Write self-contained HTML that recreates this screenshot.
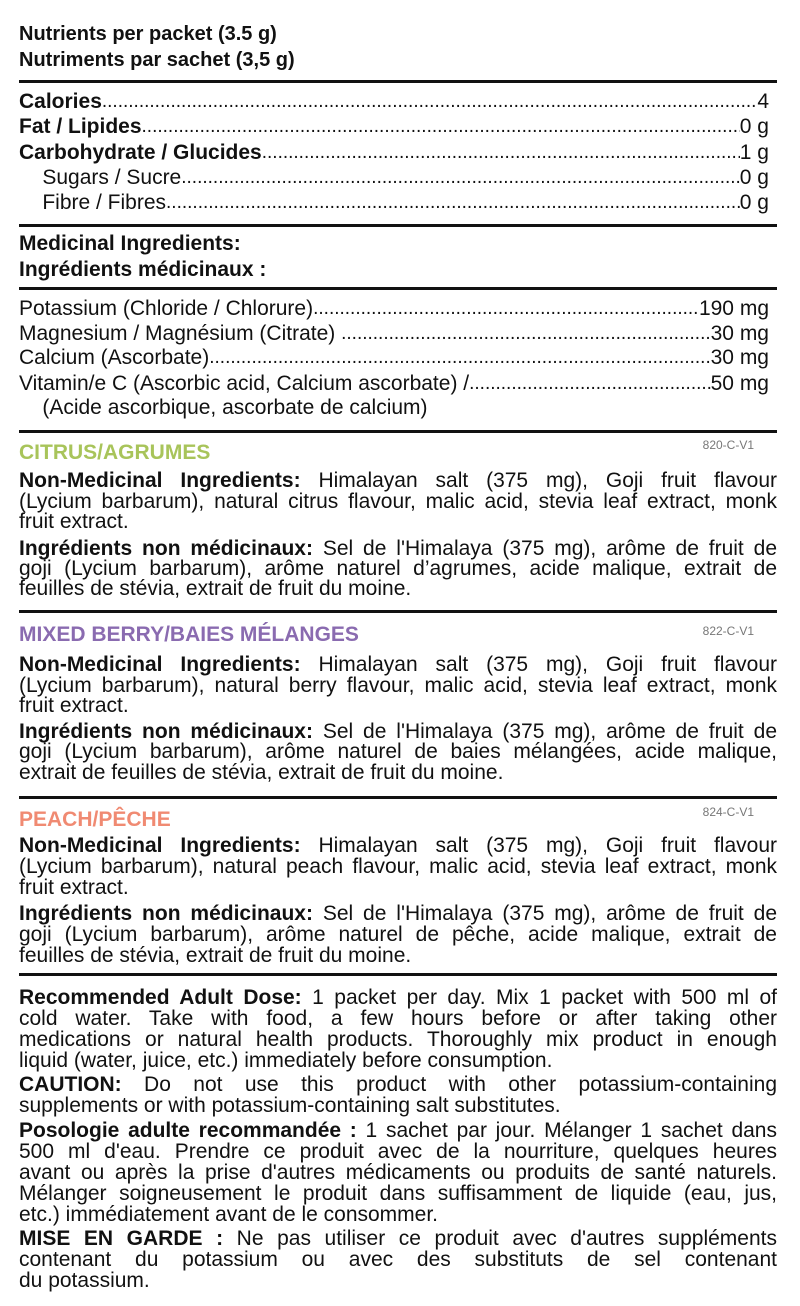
<!DOCTYPE html>
<html><head><meta charset="utf-8"><style>
body{margin:0;background:#fff;}
#p{position:relative;width:800px;height:1306px;overflow:hidden;font-family:"Liberation Sans",sans-serif;color:#111;font-size:21px;}
.l{position:absolute;left:19px;width:758px;height:22px;line-height:22px;white-space:nowrap;}
.j{text-align:justify;text-align-last:justify;}
.r{position:absolute;left:19px;width:750px;height:24px;line-height:24px;display:flex;white-space:nowrap;font-size:21px;}
.r .d{flex:1;overflow:hidden;font-size:19px;letter-spacing:0;}
.r .d::before{content:"................................................................................................................................................................................................................................................................";}
.hr{position:absolute;left:19px;width:758px;height:3px;background:#111;}
b{font-weight:bold;}
.h{position:absolute;left:19px;font-weight:bold;font-size:20px;line-height:24px;}
.code{position:absolute;right:46px;font-size:12px;color:#777;}
</style></head><body><div id="p">
<div class="h" style="top:22px">Nutrients per packet (3.5 g)</div>
<div class="h" style="top:48px">Nutriments par sachet (3,5 g)</div>
<div class="hr" style="top:80px"></div>
<div class="r" style="top:90px"><b>Calories</b><span class="d"></span><span>4</span></div>
<div class="r" style="top:115px"><b>Fat / Lipides</b><span class="d"></span><span>0 g</span></div>
<div class="r" style="top:141px"><b>Carbohydrate / Glucides</b><span class="d"></span><span>1 g</span></div>
<div class="r" style="top:166px"><span>&nbsp;&nbsp;&nbsp;&nbsp;Sugars / Sucre</span><span class="d"></span><span>0 g</span></div>
<div class="r" style="top:191px"><span>&nbsp;&nbsp;&nbsp;&nbsp;Fibre / Fibres</span><span class="d"></span><span>0 g</span></div>
<div class="hr" style="top:224px"></div>
<div class="h" style="top:232px;font-size:21px">Medicinal Ingredients:</div>
<div class="h" style="top:258px;font-size:21px">Ingrédients médicinaux :</div>
<div class="hr" style="top:287px"></div>
<div class="r" style="top:297px"><span>Potassium (Chloride / Chlorure)</span><span class="d"></span><span>190 mg</span></div>
<div class="r" style="top:322px"><span>Magnesium / Magnésium (Citrate)&nbsp;</span><span class="d"></span><span>30 mg</span></div>
<div class="r" style="top:346px"><span>Calcium (Ascorbate)</span><span class="d"></span><span>30 mg</span></div>
<div class="r" style="top:372px"><span>Vitamin/e C (Ascorbic acid, Calcium ascorbate) /</span><span class="d"></span><span>50 mg</span></div>
<div class="l" style="top:397px">&nbsp;&nbsp;&nbsp;&nbsp;(Acide ascorbique, ascorbate de calcium)</div>
<div class="hr" style="top:430px"></div>

<div class="h" style="top:441px;color:#a8c45a;font-size:21px">CITRUS/AGRUMES</div>
<div class="code" style="top:438px">820-C-V1</div>
<div class="l j" style="top:470px"><b>Non-Medicinal Ingredients:</b> Himalayan salt (375 mg), Goji fruit flavour</div>
<div class="l j" style="top:491px">(Lycium barbarum), natural citrus flavour, malic acid, stevia leaf extract, monk</div>
<div class="l" style="top:511px">fruit extract.</div>
<div class="l j" style="top:538px"><b>Ingrédients non médicinaux:</b> Sel de l'Himalaya (375 mg), arôme de fruit de</div>
<div class="l j" style="top:558px">goji (Lycium barbarum), arôme naturel d’agrumes, acide malique, extrait de</div>
<div class="l" style="top:578px">feuilles de stévia, extrait de fruit du moine.</div>
<div class="hr" style="top:610px"></div>

<div class="h" style="top:623px;color:#8a6bb0;font-size:21px">MIXED BERRY/BAIES MÉLANGES</div>
<div class="code" style="top:624px">822-C-V1</div>
<div class="l j" style="top:654px"><b>Non-Medicinal Ingredients:</b> Himalayan salt (375 mg), Goji fruit flavour</div>
<div class="l j" style="top:675px">(Lycium barbarum), natural berry flavour, malic acid, stevia leaf extract, monk</div>
<div class="l" style="top:695px">fruit extract.</div>
<div class="l j" style="top:721px"><b>Ingrédients non médicinaux:</b> Sel de l'Himalaya (375 mg), arôme de fruit de</div>
<div class="l j" style="top:741px">goji (Lycium barbarum), arôme naturel de baies mélangées, acide malique,</div>
<div class="l" style="top:762px">extrait de feuilles de stévia, extrait de fruit du moine.</div>
<div class="hr" style="top:796px"></div>

<div class="h" style="top:808px;color:#f08a72;font-size:21px">PEACH/PÊCHE</div>
<div class="code" style="top:805px">824-C-V1</div>
<div class="l j" style="top:835px"><b>Non-Medicinal Ingredients:</b> Himalayan salt (375 mg), Goji fruit flavour</div>
<div class="l j" style="top:856px">(Lycium barbarum), natural peach flavour, malic acid, stevia leaf extract, monk</div>
<div class="l" style="top:877px">fruit extract.</div>
<div class="l j" style="top:903px"><b>Ingrédients non médicinaux:</b> Sel de l'Himalaya (375 mg), arôme de fruit de</div>
<div class="l j" style="top:924px">goji (Lycium barbarum), arôme naturel de pêche, acide malique, extrait de</div>
<div class="l" style="top:945px">feuilles de stévia, extrait de fruit du moine.</div>
<div class="hr" style="top:973px"></div>

<div class="l j" style="top:987px"><b>Recommended Adult Dose:</b> 1 packet per day. Mix 1 packet with 500 ml of</div>
<div class="l j" style="top:1008px">cold water. Take with food, a few hours before or after taking other</div>
<div class="l j" style="top:1029px">medications or natural health products. Thoroughly mix product in enough</div>
<div class="l" style="top:1050px">liquid (water, juice, etc.) immediately before consumption.</div>
<div class="l j" style="top:1074px"><b>CAUTION:</b> Do not use this product with other potassium-containing</div>
<div class="l" style="top:1095px">supplements or with potassium-containing salt substitutes.</div>
<div class="l j" style="top:1120px"><b>Posologie adulte recommandée :</b> 1 sachet par jour. Mélanger 1 sachet dans</div>
<div class="l j" style="top:1141px">500 ml d'eau. Prendre ce produit avec de la nourriture, quelques heures</div>
<div class="l j" style="top:1162px">avant ou après la prise d'autres médicaments ou produits de santé naturels.</div>
<div class="l j" style="top:1183px">Mélanger soigneusement le produit dans suffisamment de liquide (eau, jus,</div>
<div class="l" style="top:1204px">etc.) immédiatement avant de le consommer.</div>
<div class="l j" style="top:1228px"><b>MISE EN GARDE :</b> Ne pas utiliser ce produit avec d'autres suppléments</div>
<div class="l j" style="top:1249px">contenant du potassium ou avec des substituts de sel contenant</div>
<div class="l" style="top:1270px">du potassium.</div>
</div></body></html>
